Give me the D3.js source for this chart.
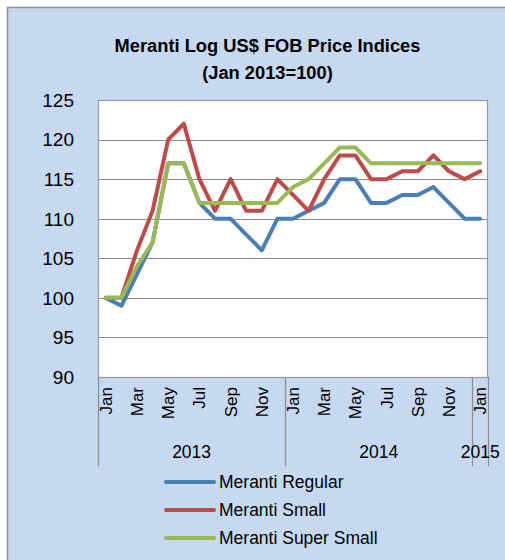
<!DOCTYPE html>
<html>
<head>
<meta charset="utf-8">
<script src="https://cdn.jsdelivr.net/npm/d3@7"></script>
<style>
  html, body { margin: 0; padding: 0; background: #fff; }
  svg { display: block; font-family: "Liberation Sans", Arial, sans-serif; }
</style>
</head>
<body>
<svg id="chart" width="505" height="560"></svg>
<script>
const categories = ["Jan 2013","Feb 2013","Mar 2013","Apr 2013","May 2013","Jun 2013","Jul 2013","Aug 2013","Sep 2013","Oct 2013","Nov 2013","Dec 2013",
  "Jan 2014","Feb 2014","Mar 2014","Apr 2014","May 2014","Jun 2014","Jul 2014","Aug 2014","Sep 2014","Oct 2014","Nov 2014","Dec 2014","Jan 2015"];
const monthLabels = ["Jan","","Mar","","May","","Jul","","Sep","","Nov","","Jan","","Mar","","May","","Jul","","Sep","","Nov","","Jan"];
const years = ["2013","2014","2015"];
const yearSpans = [[0,11],[12,23],[24,24]];
const meranti_regular = [100,99,103,107,117,117,112,110,110,108,106,110,110,111,112,115,115,112,112,113,113,114,112,110,110];
const meranti_small = [100,100,106,111,120,122,115,111,115,111,111,115,113,111,115,118,118,115,115,116,116,118,116,115,116];
const meranti_super_small = [100,100,104,107,117,117,112,112,112,112,112,112,114,115,117,119,119,117,117,117,117,117,117,117,117];
const yTicks = [90,95,100,105,110,115,120,125];
const seriesNames = ["Meranti Regular","Meranti Small","Meranti Super Small"];
const seriesColors = ["#4a7ebb","#be4b48","#98b954"];
const seriesData = [meranti_regular, meranti_small, meranti_super_small];

const svg = d3.select("#chart");
const W = 505, H = 560;
const plot = {left: 98, right: 488, top: 100, bottom: 377};

// outer chart area
svg.append("rect").attr("x", 7.5).attr("y", 7.5).attr("width", W + 10).attr("height", H + 10)
  .attr("fill", "#c6d9f1").attr("stroke", "#8e8e8e").attr("stroke-width", 1.5);

// title
const title = svg.append("text").attr("text-anchor", "middle").attr("font-weight", "bold")
  .attr("font-size", 18.3).attr("fill", "#000");
title.append("tspan").attr("x", 267.5).attr("y", 52).text("Meranti Log US$ FOB Price Indices");
title.append("tspan").attr("x", 267.5).attr("y", 79).text("(Jan 2013=100)");

const x = d3.scaleBand().domain(categories).range([plot.left, plot.right]);
const y = d3.scaleLinear().domain([90,125]).range([plot.bottom, plot.top]);

// plot area
svg.append("rect").attr("x", plot.left).attr("y", plot.top)
  .attr("width", plot.right - plot.left).attr("height", plot.bottom - plot.top)
  .attr("fill", "#fff");

// gridlines
svg.append("g").selectAll("line").data(yTicks).join("line")
  .attr("x1", plot.left).attr("x2", plot.right)
  .attr("y1", d => Math.round(y(d)) + 0.5).attr("y2", d => Math.round(y(d)) + 0.5)
  .attr("stroke", "#8c8c8c").attr("stroke-width", 1);

// plot border
svg.append("rect").attr("x", plot.left + 0.5).attr("y", plot.top + 0.5)
  .attr("width", plot.right - plot.left - 1).attr("height", plot.bottom - plot.top)
  .attr("fill", "none").attr("stroke", "#9a9a9a").attr("stroke-width", 1.2);

// y labels
svg.append("g").selectAll("text").data(yTicks).join("text")
  .attr("x", 74).attr("y", d => y(d)).attr("dy", "0.36em")
  .attr("text-anchor", "end").attr("font-size", 19).attr("fill", "#000")
  .text(d => d);

// x axis year separator lines
const sepIdx = [0, 12, 24];
const sepX = sepIdx.map(i => x(categories[i])).concat([plot.right]);
svg.append("g").selectAll("line").data(sepX).join("line")
  .attr("x1", d => Math.round(d) + 0.5).attr("x2", d => Math.round(d) + 0.5)
  .attr("y1", plot.bottom).attr("y2", 466)
  .attr("stroke", "#8c8c8c").attr("stroke-width", 1.2);

// month labels
svg.append("g").selectAll("text").data(categories.filter((c,i) => monthLabels[i] !== "")).join("text")
  .attr("transform", d => `translate(${x(d) + x.bandwidth()/2},387) rotate(-90)`)
  .attr("dy", "0.35em").attr("text-anchor", "end").attr("font-size", 17).attr("fill", "#000")
  .text(d => monthLabels[categories.indexOf(d)]);

// year labels
svg.append("g").selectAll("text").data(years).join("text")
  .attr("x", (d, i) => {
    const a = x(categories[yearSpans[i][0]]);
    const b = x(categories[yearSpans[i][1]]) + x.bandwidth();
    return (a + b) / 2;
  })
  .attr("y", 458).attr("text-anchor", "middle").attr("font-size", 17.5).attr("fill", "#000")
  .text(d => d);

// lines
const line = d3.line().x((d, i) => x(categories[i]) + x.bandwidth()/2).y(d => y(d));
svg.append("g").selectAll("path").data(seriesData).join("path")
  .attr("d", d => line(d)).attr("fill", "none")
  .attr("stroke", (d, i) => seriesColors[i]).attr("stroke-width", 4)
  .attr("stroke-linejoin", "round").attr("stroke-linecap", "round");

// legend
const lg = svg.append("g").selectAll("g").data(seriesNames).join("g")
  .attr("transform", (d, i) => `translate(0,${482 + i * 28})`);
lg.append("line").attr("x1", 166).attr("x2", 214).attr("y1", 0).attr("y2", 0)
  .attr("stroke", (d, i) => seriesColors[i]).attr("stroke-width", 4).attr("stroke-linecap", "round");
lg.append("text").attr("x", 219).attr("y", 0).attr("dy", "0.36em").attr("font-size", 17.5).attr("fill", "#000")
  .text(d => d);
</script>
</body>
</html>
